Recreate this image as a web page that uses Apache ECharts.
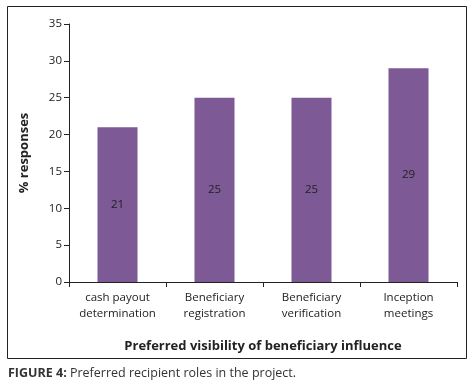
<!DOCTYPE html>
<html>
<head>
<meta charset="utf-8">
<script src="https://cdn.jsdelivr.net/npm/echarts@6/dist/echarts.min.js"></script>
<style>
    html, body { margin: 0; padding: 0; background: #fff; }
    #chart { width: 469px; height: 392px; }
</style>
</head>
<body>
<div id="chart"></div>
<script>
var categories = ['cash payout\ndetermination', 'Beneficiary\nregistration', 'Beneficiary\nverification', 'Inception\nmeetings'];
var responses = [21, 25, 25, 29];
var yTicks = { min: 0, max: 35, interval: 5 };

(function () {
    var font = 'Open Sans';
    var chart = echarts.init(document.getElementById('chart'));

    chart.setOption({
        animation: false,
        textStyle: { fontFamily: font },
        grid: { left: 69, right: 12, top: 24, bottom: 110 },
        graphic: [{
            type: 'rect',
            shape: { x: 7.5, y: 6.5, width: 459, height: 352 },
            style: { fill: 'none', stroke: '#222', lineWidth: 1 },
            z: -1
        }, {
            type: 'text',
            left: 8,
            top: 367,
            style: {
                text: '{b|FIGURE 4:} Preferred recipient roles in the project.',
                font: '12.5px "' + font + '"',
                fill: '#333',
                rich: {
                    b: { fontWeight: 'bold', fontFamily: font, fontSize: 12.5, fill: '#333' }
                }
            }
        }],
        xAxis: {
            type: 'category',
            data: categories,
            name: 'Preferred visibility of beneficiary influence',
            nameLocation: 'middle',
            nameGap: 58,
            nameTextStyle: { fontWeight: 'bold', fontSize: 13, color: '#222' },
            axisLine: { lineStyle: { color: '#222' } },
            axisTick: { show: true, length: 5, lineStyle: { color: '#222' } },
            axisLabel: { interval: 0, color: '#222', fontSize: 11.5, lineHeight: 16, margin: 8 },
            splitLine: { show: false }
        },
        yAxis: {
            type: 'value',
            min: yTicks.min,
            max: yTicks.max,
            interval: yTicks.interval,
            name: '% responses',
            nameLocation: 'middle',
            nameGap: 38,
            nameTextStyle: { fontWeight: 'bold', fontSize: 13, color: '#222' },
            axisLine: { show: true, lineStyle: { color: '#222' } },
            axisTick: { show: true, length: 5, lineStyle: { color: '#222' } },
            axisLabel: { color: '#222', fontSize: 11.5, margin: 7 },
            splitLine: { show: false }
        },
        series: [{
            type: 'bar',
            data: responses,
            barWidth: 40,
            itemStyle: { color: '#7D5995' },
            label: {
                show: true,
                position: 'inside',
                color: '#222',
                fontSize: 11.5
            }
        }]
    });
})();
</script>
</body>
</html>
